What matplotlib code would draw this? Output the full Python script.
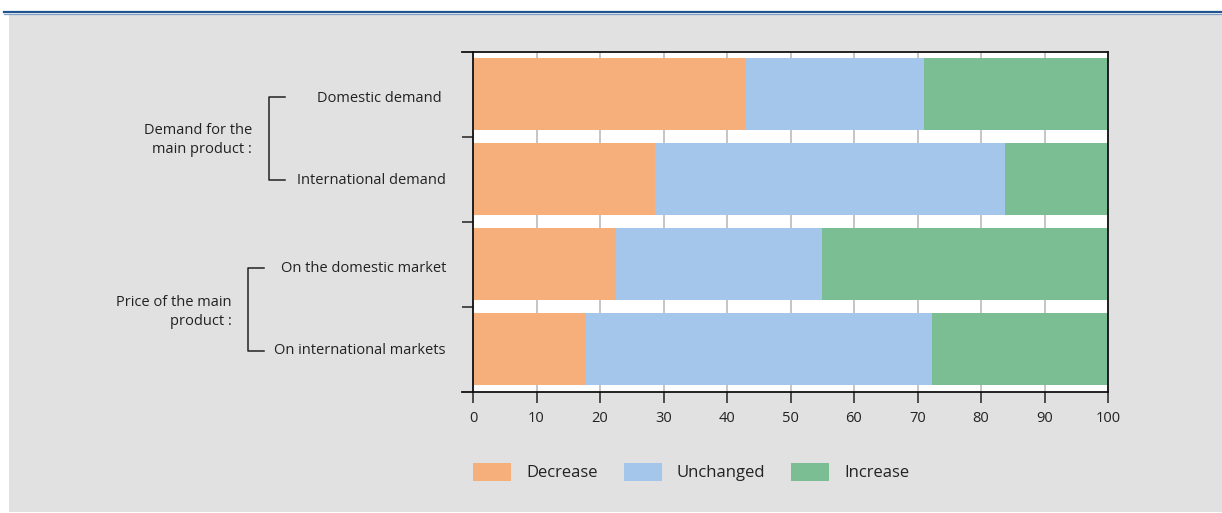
import matplotlib.pyplot as plt
import matplotlib.transforms as mtransforms
from matplotlib.patches import Rectangle
from matplotlib.lines import Line2D
import numpy as np

plt.rcParams['font.family'] = ['Open Sans', 'DejaVu Sans']

# data
categories = ['Domestic demand', 'International demand',
              'On the domestic market', 'On international markets']
decrease = [42.8, 28.7, 22.5, 17.7]
unchanged = [28.2, 55.1, 32.5, 54.6]
increase = [29.0, 16.2, 45.0, 27.7]
series_names = ['Decrease', 'Unchanged', 'Increase']
colors = ['#F6AF7B', '#A4C6EA', '#7BBE94']
groups = ['Demand for the\nmain product :', 'Price of the main\nproduct :']
xticks = list(range(0, 101, 10))

W, H = 1222, 513
fig = plt.figure(figsize=(W / 100, H / 100), dpi=100)
fig.patch.set_facecolor('white')

# grey panel and blue rule on top
fig.patches.append(Rectangle((9 / W, 1 - 512 / H), (W - 9) / W, (512 - 14) / H,
                             transform=fig.transFigure, facecolor='#E1E1E1',
                             edgecolor='none', zorder=-10))
fig.lines.append(Line2D([4 / W, 1], [1 - 11.5 / H] * 2, transform=fig.transFigure,
                        color='#1F5491', lw=1.6))
fig.lines.append(Line2D([4 / W, 1], [1 - 13.5 / H] * 2, transform=fig.transFigure,
                        color='#7F9FC4', lw=0.9))

ax = fig.add_axes([473 / W, 1 - 391.7 / H, 635 / W, 340 / H])
ax.set_facecolor('white')

y = np.arange(len(categories))
left = np.zeros(len(categories))
for vals, name, c in zip([decrease, unchanged, increase], series_names, colors):
    ax.barh(y, vals, left=left, height=0.85, color=c, label=name, zorder=2)
    left = left + np.array(vals)

ax.set_xlim(0, 100)
ax.set_ylim(len(categories) - 0.5, -0.5)
ax.set_xticks(xticks)
ax.set_xticklabels([str(t) for t in xticks], fontsize=10.5, color='#222222')
ax.grid(axis='x', color='#BBBBBB', lw=1.2, zorder=0)
ax.set_axisbelow(True)

# ticks between categories on the left
ax.set_yticks([])
ax.set_yticks(np.arange(0.5, len(categories) - 1, 1), minor=True)
ax.tick_params(axis='y', which='minor', length=8, width=1.1, color='#222222')
ax.tick_params(axis='x', length=8, width=1.1, color='#222222', pad=6)

for s in ['left', 'right', 'top', 'bottom']:
    ax.spines[s].set_color('#111111')
    ax.spines[s].set_linewidth(1.3)

# top/bottom rules stick out to the left a little
for yy in [0, 1]:
    ax.plot([-11 / 635, 0], [yy, yy], transform=ax.transAxes, color='#111111',
            lw=1.3, clip_on=False)

# category labels (right-aligned next to the brackets)
label_x = [442, 446, 446, 446]
label_y = [98, 181, 269, 351]
for lab, lx, ly in zip(categories, label_x, label_y):
    fig.text(lx / W, 1 - ly / H, lab, ha='right', va='center',
             fontsize=10.5, color='#222222')

# group brackets and labels
brackets = [(269, 285, 97, 180, 252, 140), (248, 264, 268, 351, 232, 312)]
for (bx, bx2, y0, y1, tx, ty), g in zip(brackets, groups):
    fig.lines.append(Line2D([bx2 / W, bx / W, bx / W, bx2 / W],
                            [1 - y0 / H, 1 - y0 / H, 1 - y1 / H, 1 - y1 / H],
                            transform=fig.transFigure, color='#222222', lw=1.1))
    fig.text(tx / W, 1 - ty / H, g, ha='right', va='center', fontsize=10.5,
             color='#222222', linespacing=1.35)

fs = 12
fpx = fs * 100 / 72
fig.legend(loc='center left', bbox_to_anchor=(473 / W, 1 - 472 / H), ncol=3,
           frameon=False, fontsize=fs, handlelength=38 / fpx, handleheight=22 / fpx,
           handletextpad=15 / fpx, columnspacing=26 / fpx, borderpad=0,
           borderaxespad=0, labelcolor='#222222')

fig.savefig('out.png', dpi=100)
